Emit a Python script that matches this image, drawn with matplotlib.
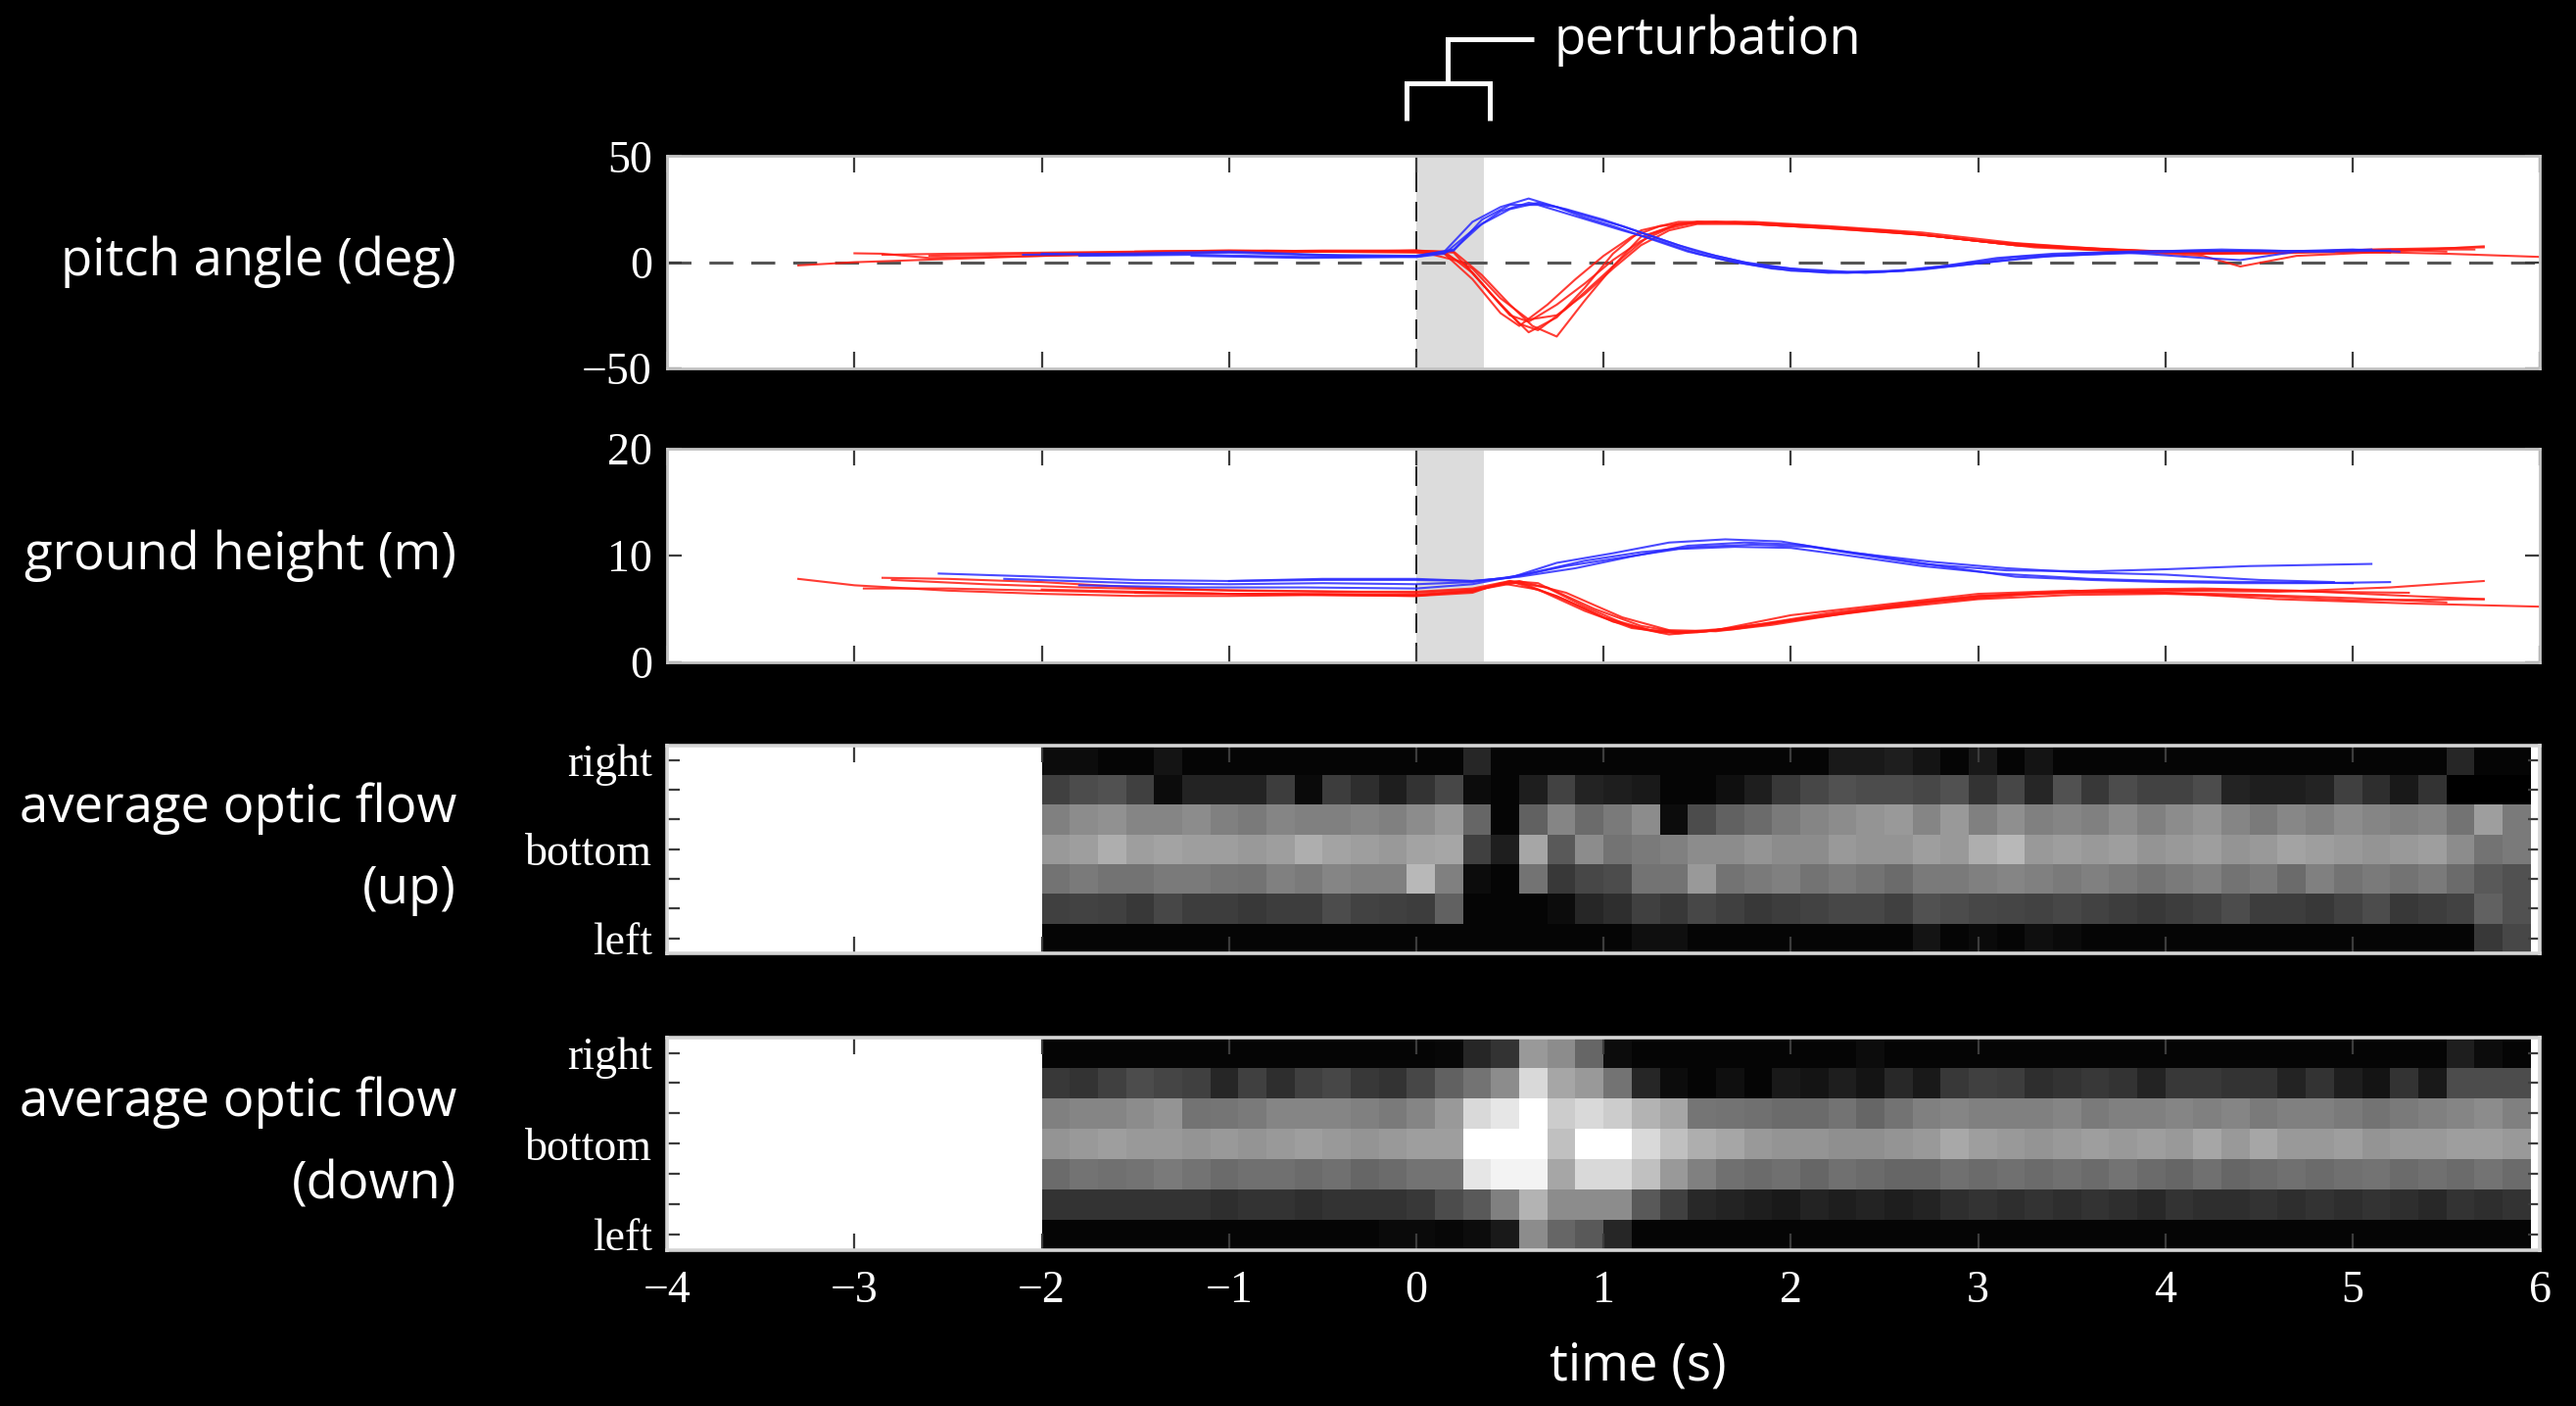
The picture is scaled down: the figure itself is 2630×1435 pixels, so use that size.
import numpy as np
import matplotlib
matplotlib.use("Agg")
import matplotlib.pyplot as plt
from matplotlib.lines import Line2D
from matplotlib.transforms import blended_transform_factory

# ==========================================
# 1. data
# ==========================================
XTICKS = [-4, -3, -2, -1, 0, 1, 2, 3, 4, 5, 6]
PERT_START, PERT_END = 0.0, 0.36

ROW_LABELS = ['right', '', '', 'bottom', '', '', 'left']
LEFT_LABELS = ['pitch angle (deg)', 'ground height (m)',
               'average optic flow\n(up)', 'average optic flow\n(down)']

# pitch angle traces: (time s, deg)
pitch_blue = [
    ([-2.1, -1.6, -1.0, -0.5, 0.0, 0.15, 0.3, 0.45, 0.6, 0.75, 0.9, 1.05, 1.25, 1.45, 1.65, 1.9, 2.2, 2.5, 2.8, 3.1, 3.4, 3.8, 4.2, 4.6, 5.0, 5.25],
     [3.5, 4.0, 5.0, 3.5, 3.0, 5.0, 19, 26, 30, 26, 21, 17, 11, 5, 1, -3, -5, -4.5, -2, 2, 4, 5, 5.5, 5, 6, 5]),
    ([-2.0, -1.5, -1.0, -0.4, 0.0, 0.2, 0.35, 0.5, 0.65, 0.8, 0.95, 1.1, 1.3, 1.5, 1.7, 2.0, 2.3, 2.6, 2.9, 3.2, 3.5, 3.9, 4.3, 4.8, 5.2],
     [4.0, 3.5, 4.5, 3.0, 2.5, 5.5, 20, 27, 27, 23, 19, 15, 10, 4, 0, -4, -5, -4, -1, 2.5, 4, 5, 6, 5, 5.5]),
    ([-1.8, -1.2, -0.6, 0.0, 0.2, 0.35, 0.5, 0.65, 0.8, 1.0, 1.2, 1.4, 1.6, 1.8, 2.1, 2.4, 2.7, 3.0, 3.4, 3.8, 4.2, 4.4, 4.7, 5.1],
     [3.0, 3.5, 2.5, 3.0, 6.0, 18, 25, 28, 25, 20, 14, 8, 3, -1, -4, -5, -3.5, -0.5, 3, 4.5, 2, 1, 5, 6]),
    ([-1.2, -0.6, 0.0, 0.15, 0.3, 0.45, 0.6, 0.75, 0.9, 1.1, 1.3, 1.5, 1.75, 2.0, 2.3, 2.6, 2.9, 3.3, 3.7, 4.1, 4.5, 4.9],
     [3.0, 2.0, 2.5, 4.0, 15, 24, 28, 26, 22, 17, 11, 5, 0, -3, -4.5, -4, -1.5, 2.5, 4, 5, 5.5, 5]),
]
pitch_red = [
    ([-3.3, -3.0, -2.6, -2.0, -1.5, -1.0, -0.5, 0.0, 0.15, 0.3, 0.45, 0.6, 0.75, 0.9, 1.05, 1.2, 1.4, 1.6, 2.0, 2.5, 3.0, 3.5, 4.0, 4.5, 5.0, 5.5, 6.0],
     [-1.5, 0.0, 1.2, 3.0, 4.0, 5.0, 5.5, 5.5, 5.0, -5, -20, -33, -26, -12, 4, 15, 19, 19, 17, 15, 10, 7, 5, 4, 5, 4, 2.5]),
    ([-3.0, -2.85, -2.6, -2.0, -1.5, -1.0, -0.5, 0.0, 0.2, 0.35, 0.5, 0.62, 0.75, 0.9, 1.05, 1.2, 1.4, 1.7, 2.1, 2.6, 3.1, 3.6, 4.1, 4.6, 5.1, 5.7],
     [4.2, 4.0, 2.0, 3.0, 4.0, 5.0, 5.0, 5.0, 5.0, -6, -20, -30, -35, -18, -2, 12, 18, 19, 17, 14, 9, 6, 5, 4.5, 6, 7]),
    ([-2.85, -2.5, -2.0, -1.5, -1.0, -0.5, 0.0, 0.15, 0.3, 0.45, 0.55, 0.7, 0.85, 1.0, 1.15, 1.3, 1.5, 1.8, 2.2, 2.7, 3.2, 3.7, 4.2, 4.4, 4.7, 5.2, 5.7],
     [3.5, 4.0, 4.5, 5.0, 5.5, 5.0, 4.5, 4.0, -8, -24, -30, -20, -8, 3, 12, 17, 19, 18, 16, 13, 8, 5.5, 3, -2, 3, 5, 7.5]),
    ([-2.6, -2.0, -1.4, -0.8, -0.3, 0.0, 0.2, 0.35, 0.5, 0.6, 0.75, 0.9, 1.05, 1.2, 1.35, 1.5, 1.8, 2.2, 2.7, 3.2, 3.7, 4.2, 4.7, 5.2, 5.5],
     [3.0, 4.0, 5.0, 5.5, 5.0, 5.5, 4.5, -10, -25, -28, -20, -10, 1, 10, 16, 19, 19, 17, 14, 9, 6, 4, 5, 6, 5]),
    ([-2.0, -1.5, -1.0, -0.5, 0.0, 0.25, 0.4, 0.55, 0.65, 0.8, 0.95, 1.1, 1.25, 1.4, 1.6, 1.9, 2.3, 2.8, 3.3, 3.8, 4.3, 4.8, 5.3, 5.65],
     [4.0, 4.5, 5.0, 5.0, 5.5, 0, -15, -29, -32, -22, -10, 2, 13, 18, 19, 18, 16, 12, 7, 5, 4, 5, 6, 6]),
    ([-1.5, -1.0, -0.5, 0.0, 0.15, 0.3, 0.45, 0.6, 0.75, 0.9, 1.05, 1.2, 1.35, 1.5, 1.8, 2.2, 2.7, 3.2, 3.7, 4.2, 4.7, 5.2],
     [5.0, 5.5, 5.0, 5.0, 4.0, -3, -17, -27, -25, -15, -3, 8, 15, 18, 18, 16, 13, 8, 6, 4, 5, 4.5]),
]

# ground height traces: (time s, m)
ground_blue = [
    ([-2.55, -2.0, -1.5, -1.0, -0.5, 0.0, 0.3, 0.5, 0.75, 1.05, 1.35, 1.65, 1.95, 2.25, 2.7, 3.15, 3.6, 4.0, 4.45, 5.1],
     [8.3, 8.0, 7.7, 7.6, 7.7, 7.7, 7.6, 7.9, 9.3, 10.2, 11.2, 11.5, 11.3, 10.4, 9.2, 8.6, 8.5, 8.7, 9.0, 9.2]),
    ([-2.2, -1.5, -1.0, -0.5, 0.0, 0.3, 0.55, 0.8, 1.1, 1.4, 1.7, 2.0, 2.3, 2.7, 3.1, 3.6, 4.0, 4.5, 5.0],
     [7.8, 7.4, 7.3, 7.4, 7.3, 7.5, 8.1, 9.0, 9.8, 10.6, 10.8, 10.7, 10.0, 9.0, 8.3, 7.8, 7.6, 7.5, 7.4]),
    ([-1.8, -1.2, -0.6, 0.0, 0.3, 0.6, 0.9, 1.2, 1.5, 1.8, 2.1, 2.4, 2.8, 3.2, 3.6, 4.0, 4.4, 4.8, 5.2],
     [7.2, 7.0, 7.0, 6.9, 7.3, 8.3, 9.5, 10.3, 10.8, 11.0, 10.8, 10.1, 9.0, 8.0, 7.7, 7.5, 7.4, 7.4, 7.5]),
    ([-1.0, -0.5, 0.0, 0.3, 0.55, 0.85, 1.15, 1.45, 1.75, 2.05, 2.35, 2.75, 3.15, 3.55, 4.0, 4.5, 4.9],
     [7.6, 7.8, 7.8, 7.6, 8.0, 8.8, 9.9, 10.9, 11.2, 11.0, 10.2, 9.4, 8.8, 8.4, 8.2, 7.7, 7.5]),
]
ground_red = [
    ([-3.3, -3.0, -2.5, -2.0, -1.5, -1.0, -0.5, 0.0, 0.3, 0.5, 0.65, 0.9, 1.15, 1.35, 1.6, 2.0, 2.5, 3.0, 3.5, 4.0, 4.6, 5.3, 6.0],
     [7.8, 7.2, 6.7, 6.4, 6.2, 6.2, 6.3, 6.3, 6.6, 7.6, 7.4, 5.2, 3.3, 2.6, 3.0, 4.4, 5.4, 6.4, 6.7, 6.5, 5.9, 5.5, 5.2]),
    ([-2.85, -2.5, -2.0, -1.5, -1.0, -0.5, 0.0, 0.3, 0.5, 0.7, 0.95, 1.2, 1.4, 1.7, 2.1, 2.6, 3.0, 3.5, 4.0, 4.6, 5.2, 5.7],
     [7.9, 7.8, 7.5, 7.0, 6.7, 6.6, 6.5, 6.8, 7.5, 7.0, 5.0, 3.4, 2.8, 3.2, 4.2, 5.4, 6.2, 6.6, 6.7, 6.6, 7.0, 7.6]),
    ([-2.95, -2.5, -2.0, -1.5, -1.0, -0.5, 0.0, 0.3, 0.45, 0.65, 0.9, 1.15, 1.4, 1.7, 2.0, 2.5, 3.0, 3.5, 4.0, 4.5, 5.0, 5.7],
     [6.9, 6.9, 6.7, 6.5, 6.4, 6.3, 6.2, 6.5, 7.4, 6.8, 4.8, 3.2, 2.7, 3.1, 3.9, 5.0, 5.9, 6.3, 6.4, 6.2, 5.8, 5.9]),
    ([-2.8, -2.3, -1.8, -1.3, -0.8, -0.3, 0.0, 0.3, 0.5, 0.75, 1.0, 1.25, 1.5, 1.8, 2.2, 2.7, 3.2, 3.7, 4.2, 4.7, 5.3, 5.7],
     [7.7, 7.3, 7.0, 6.8, 6.7, 6.6, 6.6, 6.9, 7.6, 6.2, 4.2, 3.0, 2.8, 3.4, 4.4, 5.6, 6.4, 6.8, 6.9, 6.7, 6.2, 5.9]),
    ([-2.0, -1.5, -1.0, -0.5, 0.0, 0.3, 0.55, 0.8, 1.05, 1.3, 1.55, 1.85, 2.2, 2.6, 3.0, 3.5, 4.0, 4.5, 5.0, 5.5],
     [6.8, 6.6, 6.4, 6.3, 6.2, 6.7, 7.5, 5.8, 3.8, 2.8, 2.9, 3.6, 4.6, 5.5, 6.2, 6.5, 6.5, 6.3, 6.0, 5.6]),
    ([-1.5, -1.0, -0.5, 0.0, 0.3, 0.55, 0.8, 1.1, 1.35, 1.6, 1.9, 2.3, 2.8, 3.3, 3.8, 4.3, 4.8, 5.3],
     [6.5, 6.4, 6.4, 6.3, 6.7, 7.6, 6.5, 4.2, 3.0, 2.9, 3.5, 4.6, 5.7, 6.4, 6.7, 6.8, 6.6, 6.5]),
]

# optic flow maps: 7 rows (right -> left), 53 bins of 0.15 s starting at -2 s
FLOW_T0, FLOW_DT = -2.0, 0.15
flow_up = [
    [0.05, 0.05, 0.02, 0.02, 0.08, 0.02, 0.02, 0.02, 0.02, 0.02, 0.02, 0.02, 0.02, 0.02, 0.02, 0.15, 0.02, 0.02, 0.02, 0.02,
     0.02, 0.02, 0.02, 0.02, 0.02, 0.02, 0.02, 0.02, 0.10, 0.10, 0.12, 0.08, 0.02, 0.10, 0.02, 0.08, 0.02, 0.02, 0.02, 0.02,
     0.02, 0.02, 0.02, 0.02, 0.02, 0.02, 0.02, 0.02, 0.02, 0.02, 0.15, 0.02, 0.02],
    [0.25, 0.30, 0.32, 0.25, 0.05, 0.14, 0.14, 0.14, 0.24, 0.04, 0.24, 0.18, 0.12, 0.20, 0.28, 0.05, 0.02, 0.12, 0.26, 0.14,
     0.12, 0.10, 0.02, 0.02, 0.06, 0.12, 0.22, 0.28, 0.32, 0.30, 0.30, 0.28, 0.32, 0.20, 0.28, 0.15, 0.32, 0.22, 0.30, 0.26,
     0.26, 0.30, 0.14, 0.12, 0.12, 0.14, 0.25, 0.18, 0.10, 0.20, 0.00, 0.00, 0.00],
    [0.50, 0.55, 0.57, 0.52, 0.52, 0.55, 0.50, 0.48, 0.52, 0.50, 0.50, 0.52, 0.50, 0.55, 0.60, 0.40, 0.02, 0.38, 0.52, 0.42,
     0.48, 0.55, 0.05, 0.30, 0.38, 0.42, 0.48, 0.52, 0.55, 0.58, 0.60, 0.52, 0.60, 0.50, 0.56, 0.50, 0.52, 0.50, 0.55, 0.50,
     0.55, 0.58, 0.52, 0.48, 0.53, 0.50, 0.55, 0.52, 0.50, 0.52, 0.45, 0.62, 0.48],
    [0.60, 0.62, 0.68, 0.62, 0.64, 0.62, 0.62, 0.60, 0.62, 0.68, 0.64, 0.62, 0.60, 0.64, 0.65, 0.25, 0.12, 0.65, 0.35, 0.55,
     0.45, 0.48, 0.50, 0.55, 0.55, 0.58, 0.55, 0.55, 0.60, 0.58, 0.58, 0.62, 0.60, 0.68, 0.72, 0.60, 0.62, 0.60, 0.62, 0.58,
     0.60, 0.62, 0.58, 0.60, 0.64, 0.62, 0.60, 0.58, 0.60, 0.62, 0.55, 0.45, 0.48],
    [0.45, 0.48, 0.45, 0.45, 0.48, 0.48, 0.46, 0.45, 0.50, 0.48, 0.52, 0.50, 0.50, 0.72, 0.50, 0.05, 0.02, 0.45, 0.22, 0.28,
     0.30, 0.45, 0.45, 0.60, 0.45, 0.48, 0.50, 0.45, 0.48, 0.45, 0.42, 0.48, 0.48, 0.50, 0.52, 0.50, 0.48, 0.50, 0.48, 0.45,
     0.48, 0.50, 0.45, 0.48, 0.42, 0.50, 0.45, 0.48, 0.45, 0.48, 0.42, 0.35, 0.32],
    [0.25, 0.26, 0.25, 0.22, 0.28, 0.24, 0.24, 0.22, 0.24, 0.24, 0.30, 0.26, 0.25, 0.24, 0.38, 0.02, 0.02, 0.02, 0.05, 0.15,
     0.18, 0.25, 0.22, 0.28, 0.25, 0.22, 0.24, 0.26, 0.28, 0.28, 0.25, 0.32, 0.30, 0.28, 0.27, 0.26, 0.28, 0.26, 0.24, 0.22,
     0.24, 0.26, 0.30, 0.24, 0.24, 0.22, 0.26, 0.30, 0.22, 0.24, 0.26, 0.38, 0.32],
    [0.02, 0.02, 0.02, 0.02, 0.02, 0.02, 0.02, 0.02, 0.02, 0.02, 0.02, 0.02, 0.02, 0.02, 0.02, 0.02, 0.02, 0.02, 0.02, 0.02,
     0.02, 0.06, 0.06, 0.02, 0.02, 0.02, 0.02, 0.02, 0.02, 0.02, 0.02, 0.08, 0.02, 0.04, 0.02, 0.06, 0.04, 0.02, 0.02, 0.02,
     0.02, 0.02, 0.02, 0.02, 0.02, 0.02, 0.02, 0.02, 0.02, 0.02, 0.02, 0.22, 0.28],
]
flow_down = [
    [0.02, 0.02, 0.02, 0.02, 0.02, 0.02, 0.02, 0.02, 0.02, 0.02, 0.02, 0.02, 0.02, 0.02, 0.03, 0.15, 0.20, 0.60, 0.55, 0.40,
     0.05, 0.02, 0.02, 0.02, 0.02, 0.02, 0.02, 0.02, 0.02, 0.05, 0.02, 0.02, 0.02, 0.02, 0.02, 0.02, 0.02, 0.02, 0.02, 0.02,
     0.02, 0.02, 0.02, 0.02, 0.02, 0.02, 0.02, 0.02, 0.02, 0.02, 0.12, 0.05, 0.02],
    [0.22, 0.20, 0.25, 0.30, 0.27, 0.25, 0.15, 0.25, 0.18, 0.25, 0.28, 0.22, 0.20, 0.28, 0.38, 0.45, 0.55, 0.85, 0.65, 0.60,
     0.45, 0.15, 0.05, 0.02, 0.06, 0.02, 0.10, 0.08, 0.12, 0.08, 0.16, 0.10, 0.22, 0.25, 0.24, 0.18, 0.20, 0.22, 0.20, 0.14,
     0.22, 0.22, 0.20, 0.20, 0.14, 0.20, 0.12, 0.08, 0.20, 0.10, 0.30, 0.30, 0.30],
    [0.50, 0.52, 0.52, 0.55, 0.58, 0.45, 0.46, 0.48, 0.52, 0.52, 0.52, 0.50, 0.48, 0.52, 0.60, 0.85, 0.90, 1.00, 0.80, 0.85,
     0.80, 0.70, 0.65, 0.46, 0.45, 0.44, 0.42, 0.42, 0.45, 0.40, 0.45, 0.50, 0.52, 0.50, 0.50, 0.50, 0.52, 0.48, 0.50, 0.50,
     0.52, 0.50, 0.52, 0.48, 0.50, 0.50, 0.48, 0.45, 0.48, 0.50, 0.52, 0.55, 0.50],
    [0.58, 0.60, 0.62, 0.60, 0.60, 0.58, 0.60, 0.58, 0.60, 0.62, 0.60, 0.58, 0.60, 0.62, 0.62, 1.00, 1.00, 1.00, 0.75, 1.00,
     1.00, 0.85, 0.75, 0.68, 0.65, 0.60, 0.58, 0.58, 0.56, 0.56, 0.58, 0.60, 0.66, 0.62, 0.60, 0.58, 0.60, 0.62, 0.60, 0.62,
     0.60, 0.65, 0.60, 0.65, 0.60, 0.60, 0.62, 0.58, 0.60, 0.60, 0.62, 0.62, 0.60],
    [0.42, 0.45, 0.44, 0.45, 0.48, 0.45, 0.42, 0.44, 0.44, 0.42, 0.44, 0.40, 0.42, 0.45, 0.45, 0.90, 0.95, 0.95, 0.65, 0.85,
     0.85, 0.75, 0.60, 0.50, 0.44, 0.42, 0.44, 0.40, 0.44, 0.42, 0.40, 0.40, 0.44, 0.42, 0.44, 0.42, 0.44, 0.42, 0.45, 0.42,
     0.40, 0.44, 0.40, 0.42, 0.44, 0.42, 0.44, 0.45, 0.42, 0.44, 0.42, 0.45, 0.42],
    [0.20, 0.20, 0.20, 0.20, 0.20, 0.20, 0.18, 0.20, 0.20, 0.18, 0.20, 0.20, 0.20, 0.22, 0.30, 0.35, 0.50, 0.70, 0.55, 0.55,
     0.55, 0.35, 0.25, 0.16, 0.14, 0.12, 0.10, 0.14, 0.12, 0.14, 0.12, 0.14, 0.18, 0.20, 0.18, 0.20, 0.18, 0.20, 0.18, 0.16,
     0.20, 0.18, 0.18, 0.20, 0.18, 0.20, 0.18, 0.20, 0.18, 0.16, 0.20, 0.18, 0.20],
    [0.02, 0.02, 0.02, 0.02, 0.02, 0.02, 0.02, 0.02, 0.02, 0.02, 0.02, 0.02, 0.04, 0.04, 0.03, 0.05, 0.10, 0.55, 0.40, 0.35,
     0.15, 0.02, 0.02, 0.02, 0.02, 0.02, 0.02, 0.02, 0.02, 0.02, 0.02, 0.02, 0.02, 0.02, 0.02, 0.02, 0.02, 0.02, 0.02, 0.02,
     0.02, 0.02, 0.02, 0.02, 0.02, 0.02, 0.02, 0.02, 0.02, 0.02, 0.02, 0.02, 0.02],
]

# ==========================================
# 2. figure layout
# ==========================================
plt.rcParams['font.family'] = ['Liberation Serif', 'DejaVu Serif']
SANS = 'Open Sans'
TXT_SIZE = 38
TICK_SIZE = 33
SPINE_COLOR = '#c4c4c4'
TICK_COLOR = '#3c3c3c'

fig = plt.figure(figsize=(26.3, 14.35), dpi=100, facecolor='black')
LEFT, WIDTH = 0.259, 0.727
ax1 = fig.add_axes([LEFT, 0.738, WIDTH, 0.151])
ax2 = fig.add_axes([LEFT, 0.529, WIDTH, 0.152])
ax3 = fig.add_axes([LEFT, 0.322, WIDTH, 0.148])
ax4 = fig.add_axes([LEFT, 0.111, WIDTH, 0.151])
axes = [ax1, ax2, ax3, ax4]

for ax in axes:
    ax.set_facecolor('white')
    ax.set_xlim(-4, 6)
    ax.set_xticks(XTICKS)
    ax.tick_params(axis='both', direction='in', width=1.6, color=TICK_COLOR,
                   top=True, right=True, labelsize=TICK_SIZE, labelcolor='white')
    ax.tick_params(axis='x', length=12, pad=15)
    ax.tick_params(axis='y', length=11, pad=11)
    for sp in ax.spines.values():
        sp.set_color(SPINE_COLOR)
        sp.set_linewidth(2)
for ax in axes[:3]:
    ax.tick_params(axis='x', labelbottom=False)

# ---- pitch angle ----
ax1.axvspan(PERT_START, PERT_END, color='#dcdcdc', lw=0, zorder=0.5)
ax1.axvline(0, color='black', lw=1.2, dashes=(12, 6), zorder=1)
ax1.axhline(0, color='#555555', lw=2.2, dashes=(8, 6), zorder=1.5)
for t, y in pitch_red:
    ax1.plot(t, y, color='#ff1a10', lw=1.5, alpha=0.85, zorder=2)
for t, y in pitch_blue:
    ax1.plot(t, y, color='#2a2aff', lw=1.5, alpha=0.85, zorder=2.1)
ax1.set_ylim(-50, 50)
ax1.set_yticks([-50, 0, 50])

# ---- ground height ----
ax2.axvspan(PERT_START, PERT_END, color='#dcdcdc', lw=0, zorder=0.5)
ax2.axvline(0, color='black', lw=1.2, dashes=(12, 6), zorder=1)
for t, y in ground_red:
    ax2.plot(t, y, color='#ff1a10', lw=1.5, alpha=0.85, zorder=2)
for t, y in ground_blue:
    ax2.plot(t, y, color='#2a2aff', lw=1.5, alpha=0.85, zorder=2.1)
ax2.set_ylim(0, 20)
ax2.set_yticks([0, 10, 20])

# ---- optic flow maps ----
n_bins = len(flow_up[0])
x_edges = FLOW_T0 + FLOW_DT * np.arange(n_bins + 1)
y_edges = np.arange(len(ROW_LABELS) + 1) + 0.5
for ax, data in [(ax3, flow_up), (ax4, flow_down)]:
    ax.pcolormesh(x_edges, y_edges, np.array(data), cmap='gray', vmin=0, vmax=1,
                  shading='flat', zorder=1)
    ax.set_ylim(len(ROW_LABELS) + 0.5, 0.5)
    ax.set_yticks(np.arange(1, len(ROW_LABELS) + 1))
    ax.set_yticklabels(ROW_LABELS)
    ax.tick_params(axis='y', length=9)
    for sp in ax.spines.values():
        sp.set_linewidth(2.6)
        sp.set_color('#d6d6d6')

# ==========================================
# 3. text and annotation
# ==========================================
for ax, label in zip(axes, LEFT_LABELS):
    pos = ax.get_position()
    fig.text(0.1772, (pos.y0 + pos.y1) / 2, label, ha='right', va='center',
             multialignment='right', color='white', fontsize=TXT_SIZE,
             fontfamily=SANS, linespacing=1.75)

fig.text(0.6357, 0.028, 'time (s)', ha='center', va='center', color='white',
         fontsize=TXT_SIZE, fontfamily=SANS)

# perturbation bracket above the first panel
trans = blended_transform_factory(ax1.transData, fig.transFigure)
x_l, x_r = PERT_START - 0.05, PERT_END + 0.03
x_m = (x_l + x_r) / 2
fig.add_artist(Line2D([x_l, x_l, x_r, x_r], [0.914, 0.941, 0.941, 0.914], transform=trans,
                      color='white', lw=3.6, solid_joinstyle='miter', solid_capstyle='butt'))
fig.add_artist(Line2D([x_m, x_m, 0.63], [0.941, 0.972, 0.972], transform=trans,
                      color='white', lw=3.6, solid_joinstyle='miter', solid_capstyle='butt'))
fig.text(0.735, 0.971, 'perturbation', transform=trans, ha='left', va='center',
         color='white', fontsize=TXT_SIZE, fontfamily=SANS)

fig.savefig('out.png', dpi=100, facecolor='black')
